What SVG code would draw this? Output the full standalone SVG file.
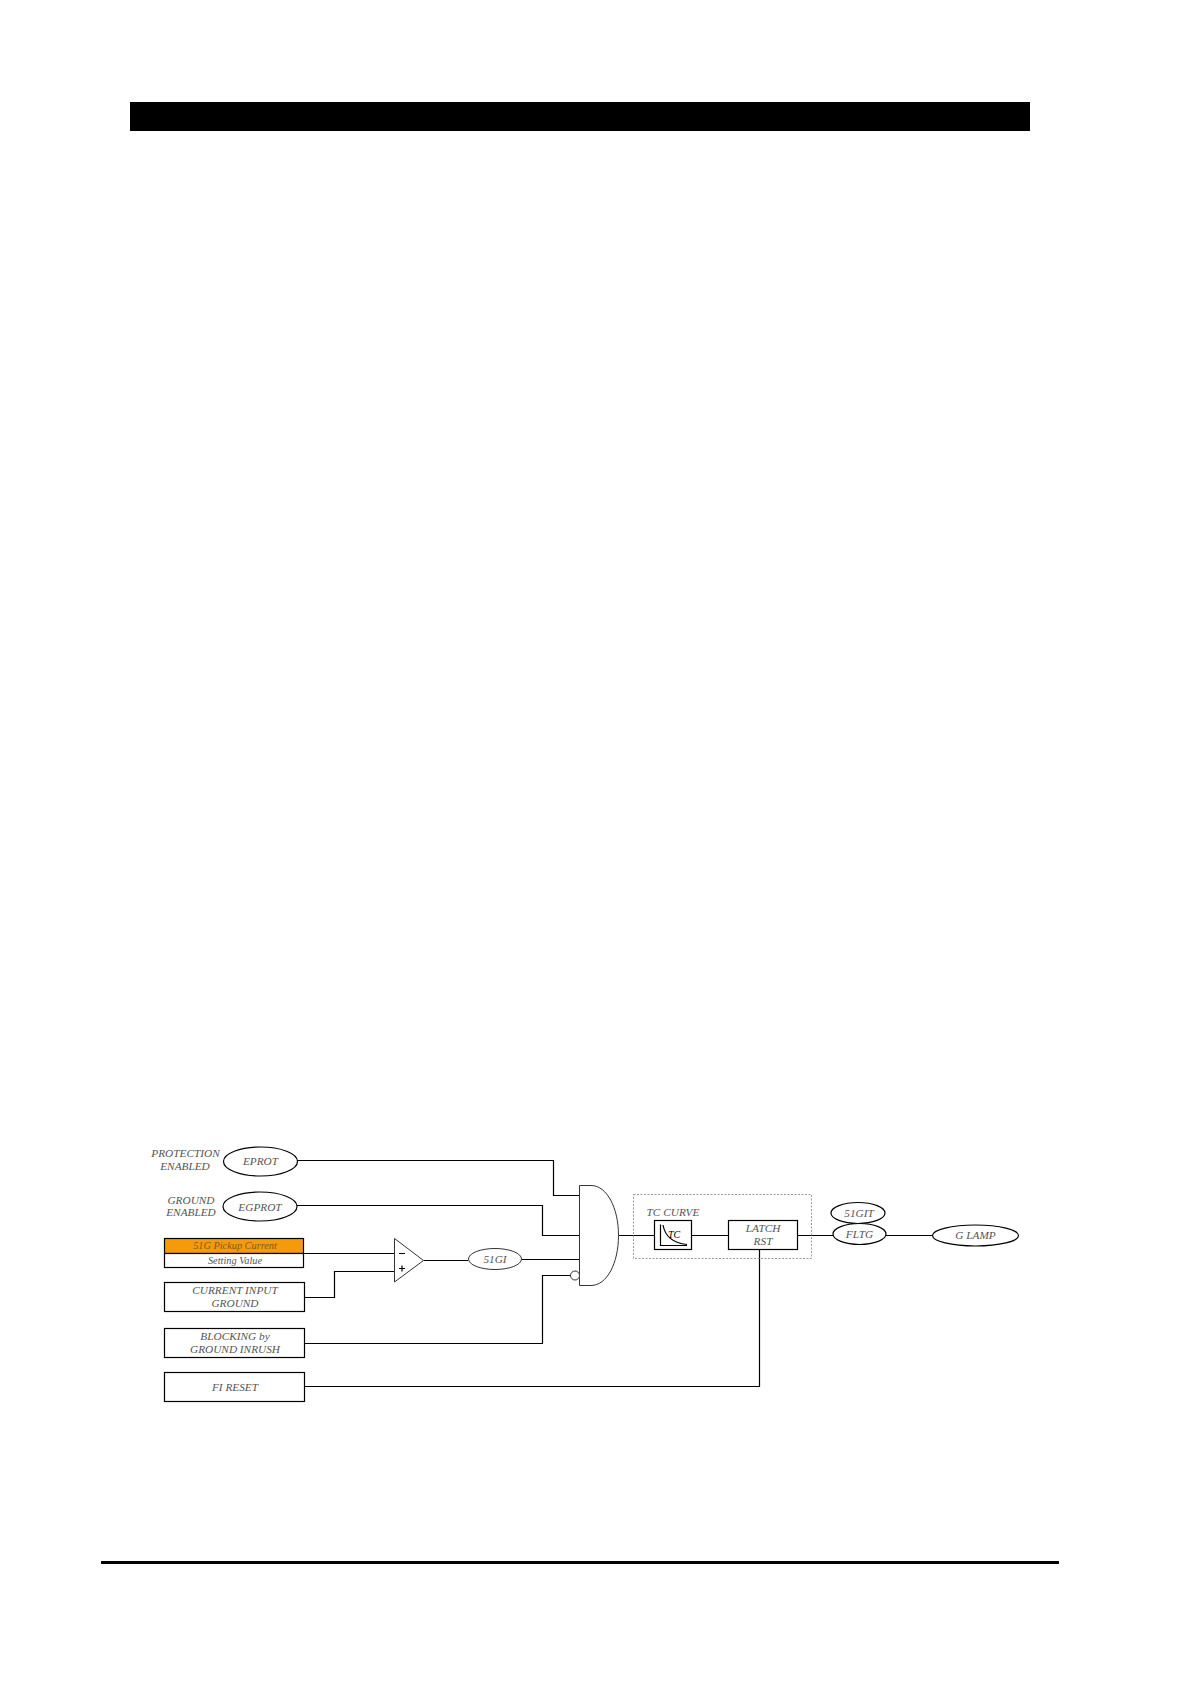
<svg xmlns="http://www.w3.org/2000/svg" width="1191" height="1684" viewBox="0 0 1191 1684">
<style>
.n{fill:#fff;stroke:#000;stroke-width:1.2}
.g{fill:#fff;stroke:#333;stroke-width:1}
.w{fill:none;stroke:#000;stroke-width:1.2}
text{font-family:"Liberation Serif","Times New Roman",serif;font-style:italic;font-size:11.3px;fill:#555;text-anchor:middle}
.s{font-size:10.300px}
</style>
<rect width="1191" height="1684" fill="#fff"/>
<rect id="header-bar" x="130" y="102" width="900" height="29" fill="#000"/>
<rect id="footer-line" x="101" y="1561" width="958" height="3" fill="#000"/>
<g id="connectors">
<path class="w" d="M297 1160.500H553.500V1195.500H582"/>
<path class="w" d="M297 1205.500H542.500V1235.500H580"/>
<path class="w" d="M303.500 1253.500H394.500"/>
<path class="w" d="M305 1297.500H334.500V1271.500H394.500"/>
<path class="w" d="M423.500 1260.500H468"/>
<path class="w" d="M521.500 1259.500H580"/>
<path class="w" d="M305 1343.500H542.500V1275.500H571"/>
<path class="w" d="M305 1386.500H759.500V1249.500"/>
<path class="w" d="M618.500 1235.500H654.500"/>
<path class="w" d="M691.500 1235.500H728.500"/>
<path class="w" d="M797.500 1235.500H833"/>
<path class="w" d="M886 1235.500H932.500"/>
</g>
<g id="tc-frame"><rect x="633.500" y="1194.500" width="178" height="64" fill="none" stroke="#999" stroke-width="1" stroke-dasharray="2 1.500"/></g>
<g id="protection-label"><text x="185.500" y="1157">PROTECTION</text><text x="185" y="1170">ENABLED</text></g>
<g id="ground-label"><text x="191" y="1204">GROUND</text><text x="191" y="1216">ENABLED</text></g>
<g id="eprot"><ellipse class="n" cx="260.500" cy="1161.500" rx="37" ry="14.500"/><text x="260.500" y="1164.500">EPROT</text></g>
<g id="egprot"><ellipse class="n" cx="260" cy="1206.500" rx="37" ry="14.500"/><text x="260" y="1210.500">EGPROT</text></g>
<g id="setting">
<rect x="164.500" y="1238.500" width="139" height="15" fill="#f79a0a" stroke="#000" stroke-width="1.200"/>
<rect class="n" x="164.500" y="1253.500" width="139" height="14"/>
<text class="s" x="235" y="1248.500" style="fill:#7a5a20">51G Pickup Current</text>
<text class="s" x="235" y="1263.500">Setting Value</text>
</g>
<g id="current-input"><rect class="n" x="164.500" y="1282.500" width="140" height="29"/><text x="235" y="1293.500">CURRENT INPUT</text><text x="235" y="1306.500">GROUND</text></g>
<g id="blocking"><rect class="n" x="164.500" y="1328.500" width="140" height="29"/><text x="235" y="1339.500">BLOCKING by</text><text x="235" y="1352.500">GROUND INRUSH</text></g>
<g id="fi-reset"><rect class="n" x="164.500" y="1372.500" width="140" height="29"/><text x="235" y="1390.500">FI RESET</text></g>
<g id="comparator"><path class="g" d="M394.500 1238.500L423.500 1260.500L394.500 1282V1238.500Z"/>
<path class="w" d="M399 1253.500H405M399 1268.500H405M402 1265.500V1271.500" stroke-width="0.800"/></g>
<g id="sigi"><ellipse class="g" cx="495" cy="1259" rx="26.500" ry="10.500"/><text x="495" y="1262.500">51GI</text></g>
<g id="and-gate"><path class="g" d="M579.500 1185.500H591C607 1185.500 618.500 1208 618.500 1235.500C618.500 1263 607 1285.500 591 1285.500H579.500Z"/><circle class="g" cx="575" cy="1275.500" r="4.500"/></g>
<g id="tc-curve">
<text x="673" y="1215.500">TC CURVE</text>
<rect class="n" x="654.500" y="1220.500" width="37" height="29"/>
<path class="w" d="M660.500 1224.500V1245.500H687" stroke-width="1"/>
<path class="w" d="M663 1225C665 1236 672 1243 687 1244.500" stroke-width="1"/>
<text x="674" y="1237.500" style="font-size:10px;fill:#000">TC</text>
</g>
<g id="latch"><rect class="n" x="728.500" y="1220.500" width="69" height="29"/><text x="763" y="1232">LATCH</text><text x="763" y="1244.500">RST</text></g>
<g id="sigit"><ellipse class="n" cx="858" cy="1213" rx="27" ry="10.500"/><text x="859" y="1217">51GIT</text></g>
<g id="fltg"><ellipse class="n" cx="859.500" cy="1234" rx="26.500" ry="10.500"/><text x="859.500" y="1237.500">FLTG</text></g>
<g id="g-lamp"><ellipse class="n" cx="975.500" cy="1235.500" rx="43" ry="10.500"/><text x="975.500" y="1238.500">G LAMP</text></g>
</svg>
